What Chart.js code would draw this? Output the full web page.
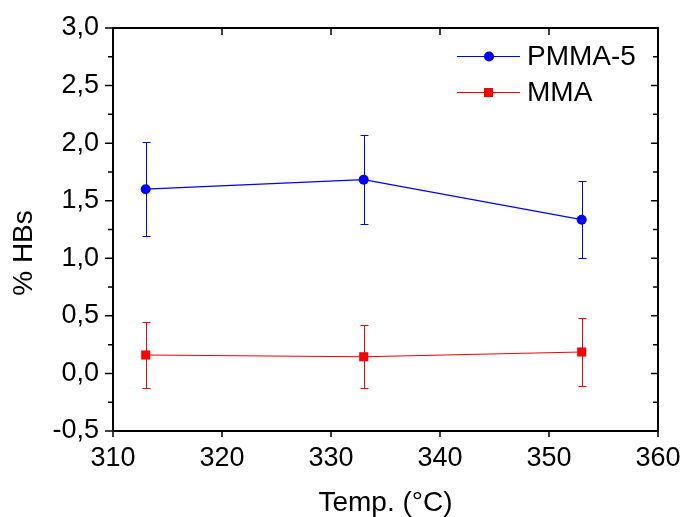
<!DOCTYPE html>
<html>
<head>
<meta charset="utf-8">
<script src="https://cdn.jsdelivr.net/npm/chart.js@4.4.0/dist/chart.umd.min.js"></script>
<style>
html, body { margin: 0; padding: 0; background: #fff; }
#wrap { width: 684px; height: 517px; }
</style>
</head>
<body>
<div id="wrap"><canvas id="myChart" width="684" height="517"></canvas></div>
<script>
// data
const temps = [313, 333, 353];
const pmmaValues = [1.60, 1.683, 1.335];
const pmmaErrors = [0.41, 0.385, 0.335];
const mmaValues = [0.16, 0.145, 0.186];
const mmaErrors = [0.284, 0.272, 0.293];
const xTicks = [310, 320, 330, 340, 350, 360];
const yTicks = [-0.5, 0, 0.5, 1, 1.5, 2, 2.5, 3];

const font = 'Liberation Sans, Arial, sans-serif';
const fontSize = 27;
const titleSize = 28;

const toPoints = (xs, ys) => xs.map((x, i) => ({ x: x, y: ys[i] }));

// error bars, drawn under the markers
const errorBars = {
    id: 'errorBars',
    beforeDatasetsDraw(chart) {
        const ctx = chart.ctx;
        const xs = chart.scales.x, ys = chart.scales.y;
        chart.data.datasets.forEach((ds) => {
            ctx.save();
            ctx.strokeStyle = ds.borderColor;
            ctx.lineWidth = 1;
            ds.data.forEach((p, i) => {
                const e = ds.errors[i];
                const px = Math.round(xs.getPixelForValue(p.x)) + 0.5;
                const top = Math.round(ys.getPixelForValue(p.y + e)) + 0.5;
                const bot = Math.round(ys.getPixelForValue(p.y - e)) + 0.5;
                ctx.beginPath();
                ctx.moveTo(px, top); ctx.lineTo(px, bot);
                ctx.moveTo(px - 4, top); ctx.lineTo(px + 4, top);
                ctx.moveTo(px - 4, bot); ctx.lineTo(px + 4, bot);
                ctx.stroke();
            });
            ctx.restore();
        });
    }
};

// box frame + major/minor ticks (origin style) + y title
const frame = {
    id: 'frame',
    afterDraw(chart) {
        const ctx = chart.ctx;
        const a = chart.chartArea;
        const xs = chart.scales.x, ys = chart.scales.y;
        ctx.save();
        ctx.strokeStyle = '#000';
        ctx.lineWidth = 2;
        ctx.strokeRect(a.left, a.top, a.right - a.left, a.bottom - a.top);
        ctx.lineWidth = 1.5;
        ctx.beginPath();
        xTicks.forEach((v) => {
            const px = xs.getPixelForValue(v);
            ctx.moveTo(px, a.bottom); ctx.lineTo(px, a.bottom + 6);
            ctx.moveTo(px, a.top); ctx.lineTo(px, a.top + 7);
        });
        yTicks.forEach((v, i) => {
            const py = ys.getPixelForValue(v);
            ctx.moveTo(a.left, py); ctx.lineTo(a.left - 8, py);
            ctx.moveTo(a.right, py); ctx.lineTo(a.right - 7, py);
            if (i < yTicks.length - 1) {
                const pm = ys.getPixelForValue(v + 0.25);
                ctx.moveTo(a.left, pm); ctx.lineTo(a.left - 5, pm);
                ctx.moveTo(a.right, pm); ctx.lineTo(a.right - 5, pm);
            }
        });
        ctx.stroke();

        // y title sits a bit below the middle in the original
        ctx.translate(24, 253);
        ctx.rotate(-Math.PI / 2);
        ctx.font = titleSize + 'px ' + font;
        ctx.fillStyle = '#000';
        ctx.textAlign = 'center';
        ctx.textBaseline = 'middle';
        ctx.fillText('% HBs', 0, 0);
        ctx.restore();
    }
};

// legend in the top-right corner, line + marker
const boxLegend = {
    id: 'boxLegend',
    afterDraw(chart) {
        const ctx = chart.ctx;
        ctx.save();
        ctx.font = titleSize + 'px ' + font;
        ctx.textBaseline = 'middle';
        chart.data.datasets.forEach((ds, i) => {
            const y = 56 + i * 36;
            ctx.strokeStyle = ds.borderColor;
            ctx.lineWidth = 1;
            ctx.beginPath();
            ctx.moveTo(457, y + 0.5); ctx.lineTo(520, y + 0.5);
            ctx.stroke();
            ctx.fillStyle = ds.backgroundColor;
            if (ds.pointStyle === 'rect') {
                ctx.fillRect(484, y - 4, 9, 9);
            } else {
                ctx.beginPath();
                ctx.arc(489, y + 0.5, 5, 0, Math.PI * 2);
                ctx.fill();
            }
            ctx.fillStyle = '#000';
            ctx.fillText(ds.label, 527, y + 1);
        });
        ctx.restore();
    }
};

const ctx = document.getElementById('myChart').getContext('2d');
new Chart(ctx, {
    type: 'line',
    data: {
        datasets: [
            {
                label: 'PMMA-5',
                data: toPoints(temps, pmmaValues),
                errors: pmmaErrors,
                borderColor: '#0000ff',
                backgroundColor: '#0000ff',
                borderWidth: 1.2,
                pointStyle: 'circle',
                pointRadius: 5,
                pointBorderWidth: 0,
                tension: 0
            },
            {
                label: 'MMA',
                data: toPoints(temps, mmaValues),
                errors: mmaErrors,
                borderColor: '#ff0000',
                backgroundColor: '#ff0000',
                borderWidth: 1.2,
                pointStyle: 'rect',
                pointRadius: 6.4,
                pointBorderWidth: 0,
                tension: 0
            }
        ]
    },
    options: {
        responsive: false,
        animation: false,
        layout: { padding: { left: 0, top: 28, right: 26, bottom: 0 } },
        plugins: { legend: { display: false }, tooltip: { enabled: false } },
        scales: {
            x: {
                type: 'linear',
                min: 310, max: 360,
                afterBuildTicks: (s) => { s.ticks = xTicks.map((v) => ({ value: v })); },
                afterFit: (s) => { s.height = 86; s.paddingLeft = 0; s.paddingRight = 0; },
                grid: { display: false, drawTicks: false },
                border: { display: false },
                ticks: { color: '#000', padding: 11, font: { family: font, size: fontSize } },
                title: {
                    display: true, text: 'Temp. (°C)', color: '#000',
                    font: { family: font, size: titleSize, lineHeight: 1 }, padding: { bottom: 0 }
                }
            },
            y: {
                min: -0.5, max: 3,
                afterBuildTicks: (s) => { s.ticks = yTicks.map((v) => ({ value: v })); },
                afterFit: (s) => { s.width = 113; s.paddingTop = 0; s.paddingBottom = 0; },
                grid: { display: false, drawTicks: false },
                border: { display: false },
                ticks: {
                    color: '#000', padding: 14, font: { family: font, size: fontSize },
                    callback: (v) => v.toFixed(1).replace('.', ',')
                },
                title: { display: false }
            }
        }
    },
    plugins: [errorBars, frame, boxLegend]
});
</script>
</body>
</html>
